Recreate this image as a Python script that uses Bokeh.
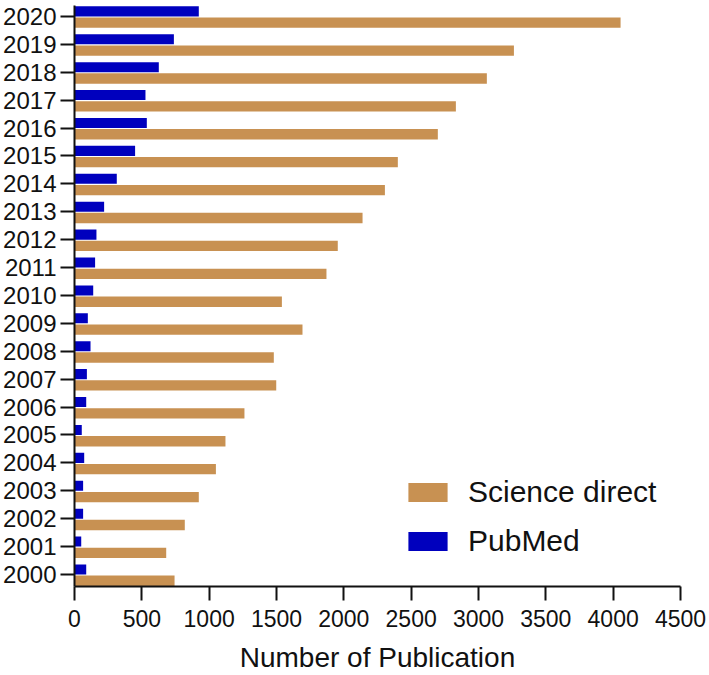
from bokeh.plotting import figure
from bokeh.models import ColumnDataSource, FixedTicker, Range1d, Legend, LegendItem
from bokeh.transform import dodge
from bokeh.embed import file_html
from bokeh.resources import INLINE

years = list(range(2000, 2021))
science_direct = [743, 681, 819, 923, 1050, 1121, 1262, 1498, 1480, 1693, 1540,
                  1871, 1955, 2139, 2305, 2401, 2698, 2832, 3062, 3263, 4055]
pubmed = [87, 50, 64, 64, 72, 54, 87, 92, 119, 99, 139,
          153, 163, 220, 314, 450, 537, 527, 626, 738, 923]
x_ticks = [0, 500, 1000, 1500, 2000, 2500, 3000, 3500, 4000, 4500]
series_names = ["Science direct", "PubMed"]
colors = ["#C89152", "#0000BE"]

src = ColumnDataSource(dict(year=years, sd=science_direct, pm=pubmed))

FONT = "Liberation Sans"
p = figure(width=709, height=675, output_backend="svg", toolbar_location=None,
           x_range=Range1d(0, 4500), y_range=Range1d(1999.57, 2020.39),
           min_border_left=74, min_border_right=29, min_border_top=5, min_border_bottom=10)

r_sd = p.hbar(y=dodge("year", -0.225, range=p.y_range), height=0.37, left=0, right="sd",
              source=src, fill_color=colors[0], line_color=None)
r_pm = p.hbar(y=dodge("year", 0.18, range=p.y_range), height=0.36, left=0, right="pm",
              source=src, fill_color=colors[1], line_color=None)

p.outline_line_color = None
p.xgrid.visible = False
p.ygrid.visible = False

p.yaxis.ticker = FixedTicker(ticks=years)
p.xaxis.ticker = FixedTicker(ticks=x_ticks)
for ax in (p.xaxis[0], p.yaxis[0]):
    ax.axis_line_width = 2
    ax.axis_line_color = "#111111"
    ax.major_tick_line_width = 2
    ax.major_tick_line_color = "#111111"
    ax.major_tick_in = 0
    ax.minor_tick_line_color = None
    ax.major_label_text_font = FONT
    ax.major_label_text_color = "#111111"
p.yaxis.major_tick_out = 14
p.xaxis.major_tick_out = 14
p.yaxis.major_label_text_font_size = "24px"
p.xaxis.major_label_text_font_size = "23px"
p.yaxis.major_label_standoff = 4
p.xaxis.major_label_standoff = 9
p.xaxis.axis_label = "Number of Publication"
p.xaxis.axis_label_text_font = FONT
p.xaxis.axis_label_text_font_size = "28px"
p.xaxis.axis_label_text_font_style = "normal"
p.xaxis.axis_label_text_color = "#111111"
p.xaxis.axis_label_standoff = 12

legend = Legend(items=[LegendItem(label=series_names[0], renderers=[r_sd]),
                       LegendItem(label=series_names[1], renderers=[r_pm])],
                location=(329, 28), orientation="vertical")
legend.label_text_font = FONT
legend.label_text_font_size = "30px"
legend.label_text_color = "#111111"
legend.glyph_width = 49
legend.glyph_height = 24
legend.label_standoff = 16
legend.spacing = 15
legend.padding = 0
legend.margin = 0
legend.border_line_color = None
legend.background_fill_alpha = 0
p.add_layout(legend)

open("out.html", "w").write(file_html(p, INLINE))
